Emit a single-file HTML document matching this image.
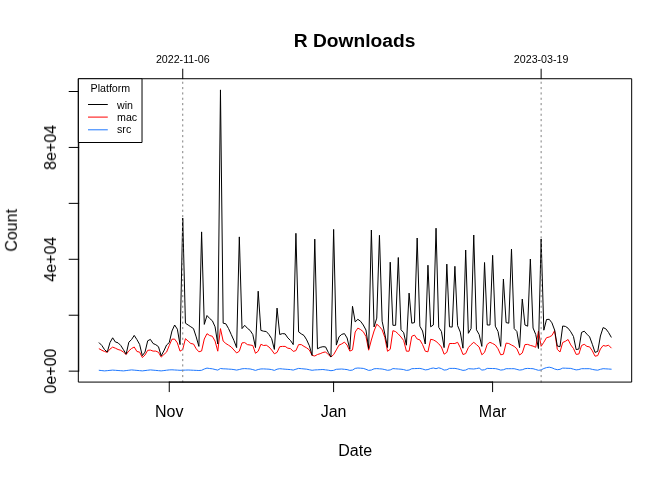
<!DOCTYPE html>
<html><head><meta charset="utf-8"><style>
html,body{margin:0;padding:0;background:#fff;}
body{width:672px;height:480px;overflow:hidden;font-family:"Liberation Sans",sans-serif;}
svg{display:block;} text{will-change:transform;}
</style></head><body>
<svg width="672" height="480" viewBox="0 0 672 480">
<rect width="672" height="480" fill="#fff"/>
<g stroke-linecap="round" stroke-linejoin="round">
<path d="M99.20,370.30 L101.89,370.60 L104.59,370.90 L107.28,370.63 L109.98,370.37 L112.67,370.10 L115.37,370.30 L118.06,370.50 L120.76,370.70 L123.45,370.90 L126.15,370.57 L128.84,370.23 L131.54,369.90 L134.23,370.15 L136.93,370.40 L139.62,370.65 L142.32,370.90 L145.01,370.57 L147.70,370.23 L150.40,369.90 L153.09,370.15 L155.79,370.40 L158.48,370.65 L161.18,370.90 L163.87,370.57 L166.57,370.23 L169.26,369.90 L171.96,369.80 L174.65,369.97 L177.35,370.13 L180.04,370.30 L182.74,370.20 L185.43,370.10 L188.13,370.00 L190.82,370.12 L193.51,370.25 L196.21,370.38 L198.90,370.50 L201.60,370.30 L204.29,369.00 L206.99,368.10 L209.68,368.50 L212.38,368.80 L215.07,369.50 L217.77,370.10 L220.46,368.50 L223.16,368.80 L225.85,368.90 L228.55,369.10 L231.24,369.25 L233.94,369.60 L236.63,370.10 L239.32,369.50 L242.02,368.80 L244.71,368.60 L247.41,368.77 L250.10,368.95 L252.80,369.60 L255.49,370.40 L258.19,369.50 L260.88,368.95 L263.58,368.90 L266.27,369.05 L268.97,369.20 L271.66,369.60 L274.36,370.40 L277.05,369.20 L279.74,368.70 L282.44,368.95 L285.13,369.20 L287.83,369.40 L290.52,369.60 L293.22,370.10 L295.91,369.20 L298.61,368.40 L301.30,368.67 L304.00,368.93 L306.69,369.20 L309.39,369.75 L312.08,370.30 L314.78,369.95 L317.47,369.80 L320.17,369.65 L322.86,369.50 L325.55,369.85 L328.25,370.20 L330.94,370.70 L333.64,370.35 L336.33,369.30 L339.03,369.15 L341.72,369.00 L344.42,369.30 L347.11,369.60 L349.81,370.40 L352.50,370.05 L355.20,368.40 L357.89,368.00 L360.59,368.20 L363.28,368.40 L365.98,369.30 L368.67,370.40 L371.36,370.05 L374.06,368.80 L376.75,368.60 L379.45,368.80 L382.14,369.00 L384.84,369.60 L387.53,370.30 L390.23,369.95 L392.92,368.60 L395.62,368.80 L398.31,369.00 L401.01,369.20 L403.70,369.60 L406.40,370.40 L409.09,370.05 L411.79,368.70 L414.48,368.60 L417.17,368.50 L419.87,368.40 L422.56,369.00 L425.26,369.90 L427.95,369.55 L430.65,368.50 L433.34,368.00 L436.04,368.70 L438.73,367.80 L441.43,368.60 L444.12,370.10 L446.82,369.75 L449.51,368.40 L452.21,368.40 L454.90,368.40 L457.60,368.90 L460.29,369.60 L462.98,370.40 L465.68,370.05 L468.37,368.70 L471.07,368.85 L473.76,369.00 L476.46,368.60 L479.15,368.00 L481.85,370.10 L484.54,369.75 L487.24,368.40 L489.93,368.47 L492.63,368.53 L495.32,368.60 L498.02,369.20 L500.71,370.10 L503.41,369.75 L506.10,368.70 L508.79,368.70 L511.49,368.70 L514.18,368.70 L516.88,369.40 L519.57,370.10 L522.27,369.75 L524.96,368.70 L527.66,368.40 L530.35,368.55 L533.05,368.70 L535.74,369.50 L538.44,370.30 L541.13,369.95 L543.83,368.50 L546.52,367.60 L549.21,367.20 L551.91,367.80 L554.60,369.00 L557.30,369.70 L559.99,369.35 L562.69,368.10 L565.38,368.20 L568.08,368.30 L570.77,368.40 L573.47,369.20 L576.16,369.90 L578.86,369.55 L581.55,368.70 L584.25,368.70 L586.94,368.70 L589.64,368.70 L592.33,369.40 L595.02,369.90 L597.72,370.20 L600.41,369.30 L603.11,368.70 L605.80,368.85 L608.50,369.00 L611.19,369.20" fill="none" stroke="#1E78FF" stroke-width="1" stroke-linejoin="round"/>
<path d="M99.20,348.80 L101.89,350.30 L104.59,351.50 L107.28,352.30 L109.98,349.10 L112.67,347.10 L115.37,348.20 L118.06,349.50 L120.76,350.30 L123.45,352.10 L126.15,354.50 L128.84,350.90 L131.54,348.50 L134.23,347.00 L136.93,351.50 L139.62,352.10 L142.32,357.50 L145.01,355.00 L147.70,350.30 L150.40,350.10 L153.09,351.10 L155.79,351.10 L158.48,352.30 L161.18,357.10 L163.87,354.50 L166.57,352.10 L169.26,345.50 L171.96,339.20 L174.65,339.10 L177.35,342.90 L180.04,351.20 L182.74,349.40 L185.43,338.70 L188.13,341.10 L190.82,343.50 L193.51,344.00 L196.21,348.80 L198.90,351.80 L201.60,351.00 L204.29,339.00 L206.99,333.70 L209.68,335.50 L212.38,336.30 L215.07,341.10 L217.77,351.20 L220.46,328.60 L223.16,341.10 L225.85,343.50 L228.55,345.20 L231.24,347.00 L233.94,350.00 L236.63,353.00 L239.32,351.20 L242.02,342.90 L244.71,342.60 L247.41,344.60 L250.10,345.00 L252.80,345.50 L255.49,353.30 L258.19,351.20 L260.88,344.30 L263.58,345.50 L266.27,345.20 L268.97,347.00 L271.66,350.00 L274.36,353.80 L277.05,352.40 L279.74,346.70 L282.44,346.40 L285.13,346.40 L287.83,348.20 L290.52,348.60 L293.22,351.40 L295.91,350.60 L298.61,344.60 L301.30,344.60 L304.00,346.40 L306.69,347.90 L309.39,350.00 L312.08,355.40 L314.78,356.00 L317.47,354.50 L320.17,353.70 L322.86,352.50 L325.55,351.90 L328.25,354.60 L330.94,357.00 L333.64,354.60 L336.33,349.90 L339.03,345.10 L341.72,343.90 L344.42,342.10 L347.11,345.10 L349.81,351.10 L352.50,349.90 L355.20,332.00 L357.89,328.10 L360.59,329.60 L363.28,331.70 L365.98,336.50 L368.67,350.20 L371.36,340.00 L374.06,331.00 L376.75,324.20 L379.45,326.50 L382.14,329.80 L384.84,337.40 L387.53,351.30 L390.23,349.30 L392.92,330.70 L395.62,331.60 L398.31,334.00 L401.01,337.00 L403.70,340.50 L406.40,351.20 L409.09,351.20 L411.79,336.30 L414.48,335.10 L417.17,339.00 L419.87,339.90 L422.56,344.60 L425.26,351.20 L427.95,351.80 L430.65,339.30 L433.34,339.90 L436.04,341.40 L438.73,343.80 L441.43,347.00 L444.12,354.20 L446.82,352.40 L449.51,343.50 L452.21,343.50 L454.90,343.50 L457.60,342.30 L460.29,347.60 L462.98,354.50 L465.68,353.60 L468.37,347.60 L471.07,344.60 L473.76,342.30 L476.46,344.60 L479.15,347.00 L481.85,354.80 L484.54,352.40 L487.24,344.30 L489.93,342.30 L492.63,343.50 L495.32,345.00 L498.02,348.80 L500.71,354.80 L503.41,354.20 L506.10,343.10 L508.79,343.50 L511.49,345.00 L514.18,346.40 L516.88,348.80 L519.57,355.00 L522.27,353.00 L524.96,344.60 L527.66,344.40 L530.35,345.40 L533.05,346.10 L535.74,347.30 L538.44,331.00 L541.13,346.30 L543.83,342.20 L546.52,337.70 L549.21,337.00 L551.91,335.50 L554.60,330.70 L557.30,349.40 L559.99,352.00 L562.69,342.50 L565.38,341.30 L568.08,339.50 L570.77,344.90 L573.47,348.50 L576.16,354.40 L578.86,354.00 L581.55,345.50 L584.25,344.30 L586.94,346.40 L589.64,346.90 L592.33,350.80 L595.02,356.20 L597.72,355.60 L600.41,349.00 L603.11,345.50 L605.80,346.10 L608.50,345.20 L611.19,347.90" fill="none" stroke="#FF0000" stroke-width="1" stroke-linejoin="round"/>
<path d="M99.20,342.80 L101.89,345.50 L104.59,349.70 L107.28,352.10 L109.98,342.60 L112.67,337.80 L115.37,342.00 L118.06,342.80 L120.76,345.50 L123.45,349.70 L126.15,354.20 L128.84,342.20 L131.54,339.60 L134.23,335.40 L136.93,339.60 L139.62,344.40 L142.32,355.70 L145.01,352.10 L147.70,340.80 L150.40,339.40 L153.09,343.50 L155.79,344.70 L158.48,346.70 L161.18,355.90 L163.87,350.90 L166.57,345.00 L169.26,342.60 L171.96,331.00 L174.65,325.00 L177.35,329.20 L180.04,344.60 L182.74,218.10 L185.43,323.20 L188.13,325.00 L190.82,326.80 L193.51,328.60 L196.21,336.90 L198.90,346.40 L201.60,231.90 L204.29,324.40 L206.99,315.50 L209.68,318.50 L212.38,320.80 L215.07,326.80 L217.77,344.00 L220.46,89.90 L223.16,323.20 L225.85,323.80 L228.55,328.60 L231.24,334.50 L233.94,340.50 L236.63,347.60 L239.32,236.90 L242.02,328.60 L244.71,325.30 L247.41,328.30 L250.10,330.40 L252.80,334.50 L255.49,347.60 L258.19,291.20 L260.88,330.40 L263.58,331.20 L266.27,331.50 L268.97,334.50 L271.66,338.70 L274.36,349.40 L277.05,308.10 L279.74,334.50 L282.44,333.60 L285.13,333.90 L287.83,337.90 L290.52,340.50 L293.22,344.60 L295.91,233.30 L298.61,331.90 L301.30,333.90 L304.00,335.50 L306.69,339.90 L309.39,345.80 L312.08,355.40 L314.78,239.10 L317.47,348.80 L320.17,347.40 L322.86,346.70 L325.55,346.90 L328.25,352.30 L330.94,357.00 L333.64,229.40 L336.33,345.10 L339.03,336.80 L341.72,334.40 L344.42,333.60 L347.11,338.00 L349.81,349.30 L352.50,306.30 L355.20,321.90 L357.89,319.30 L360.59,321.30 L363.28,325.00 L365.98,330.00 L368.67,348.50 L371.36,230.00 L374.06,326.90 L376.75,318.10 L379.45,235.30 L382.14,321.20 L384.84,334.00 L387.53,347.50 L390.23,262.20 L392.92,325.30 L395.62,325.30 L398.31,257.50 L401.01,329.80 L403.70,332.70 L406.40,345.20 L409.09,293.10 L411.79,323.20 L414.48,322.60 L417.17,238.00 L419.87,326.20 L422.56,331.00 L425.26,344.00 L427.95,265.20 L430.65,326.80 L433.34,325.00 L436.04,228.20 L438.73,327.40 L441.43,331.50 L444.12,347.60 L446.82,264.10 L449.51,326.80 L452.21,327.10 L454.90,266.30 L457.60,325.60 L460.29,332.10 L462.98,348.20 L465.68,250.00 L468.37,333.30 L471.07,328.60 L473.76,235.00 L476.46,329.80 L479.15,334.50 L481.85,346.40 L484.54,262.50 L487.24,325.00 L489.93,325.00 L492.63,255.30 L495.32,326.20 L498.02,331.50 L500.71,346.40 L503.41,279.00 L506.10,322.60 L508.79,323.20 L511.49,249.00 L514.18,328.60 L516.88,331.50 L519.57,347.60 L522.27,299.00 L524.96,325.00 L527.66,326.20 L530.35,259.00 L533.05,328.00 L535.74,334.50 L538.44,348.50 L541.13,239.00 L543.83,330.20 L546.52,319.50 L549.21,319.30 L551.91,322.80 L554.60,330.00 L557.30,346.00 L559.99,346.70 L562.69,326.00 L565.38,326.40 L568.08,328.20 L570.77,331.80 L573.47,336.50 L576.16,349.60 L578.86,349.00 L581.55,332.40 L584.25,331.20 L586.94,334.20 L589.64,336.90 L592.33,344.30 L595.02,352.40 L597.72,351.40 L600.41,336.00 L603.11,327.60 L605.80,328.80 L608.50,332.40 L611.19,337.10" fill="none" stroke="#000" stroke-width="1" stroke-linejoin="round"/>
<line x1="182.74" y1="382.08" x2="182.74" y2="78.72" stroke="#808080" stroke-width="1" stroke-dasharray="1.333 4"/>
<line x1="541.13" y1="382.08" x2="541.13" y2="78.72" stroke="#808080" stroke-width="1" stroke-dasharray="1.333 4"/>
<rect x="78.72" y="78.72" width="552.96" height="303.36" fill="none" stroke="#000" stroke-width="1"/>
<line x1="169.26" y1="382.08" x2="492.6" y2="382.08" stroke="#000" stroke-width="1"/>
<line x1="169.26" y1="382.08" x2="169.26" y2="391.68" stroke="#000" stroke-width="1"/>
<line x1="333.6" y1="382.08" x2="333.6" y2="391.68" stroke="#000" stroke-width="1"/>
<line x1="492.6" y1="382.08" x2="492.6" y2="391.68" stroke="#000" stroke-width="1"/>
<line x1="78.72" y1="371.15" x2="78.72" y2="91.50" stroke="#000" stroke-width="1"/>
<line x1="78.72" y1="371.15" x2="69.12" y2="371.15" stroke="#000" stroke-width="1"/>
<line x1="78.72" y1="315.22" x2="69.12" y2="315.22" stroke="#000" stroke-width="1"/>
<line x1="78.72" y1="259.29" x2="69.12" y2="259.29" stroke="#000" stroke-width="1"/>
<line x1="78.72" y1="203.36" x2="69.12" y2="203.36" stroke="#000" stroke-width="1"/>
<line x1="78.72" y1="147.43" x2="69.12" y2="147.43" stroke="#000" stroke-width="1"/>
<line x1="78.72" y1="91.50" x2="69.12" y2="91.50" stroke="#000" stroke-width="1"/>
<line x1="182.74" y1="78.72" x2="182.74" y2="69.12" stroke="#000" stroke-width="1"/>
<line x1="541.13" y1="78.72" x2="541.13" y2="69.12" stroke="#000" stroke-width="1"/>
<text x="354.6" y="46.7" font-family="Liberation Sans, sans-serif" font-size="19.2" font-weight="bold" text-anchor="middle">R Downloads</text>
<text x="355.2" y="455.6" font-family="Liberation Sans, sans-serif" font-size="16" text-anchor="middle">Date</text>
<text transform="translate(16.9,230.4) rotate(-90)" font-family="Liberation Sans, sans-serif" font-size="16" text-anchor="middle">Count</text>
<text x="169.26" y="417" font-family="Liberation Sans, sans-serif" font-size="16" text-anchor="middle">Nov</text>
<text x="333.6" y="417" font-family="Liberation Sans, sans-serif" font-size="16" text-anchor="middle">Jan</text>
<text x="492.6" y="417" font-family="Liberation Sans, sans-serif" font-size="16" text-anchor="middle">Mar</text>
<text transform="translate(56,371.15) rotate(-90)" font-family="Liberation Sans, sans-serif" font-size="16" text-anchor="middle">0e+00</text>
<text transform="translate(56,259.29) rotate(-90)" font-family="Liberation Sans, sans-serif" font-size="16" text-anchor="middle">4e+04</text>
<text transform="translate(56,147.43) rotate(-90)" font-family="Liberation Sans, sans-serif" font-size="16" text-anchor="middle">8e+04</text>
<text x="182.74" y="62.9" font-family="Liberation Sans, sans-serif" font-size="10.67" text-anchor="middle">2022-11-06</text>
<text x="541.13" y="62.9" font-family="Liberation Sans, sans-serif" font-size="10.67" text-anchor="middle">2023-03-19</text>
<rect x="78.72" y="78.72" width="63.3" height="63.78" fill="#fff" stroke="#000" stroke-width="1"/>
<text x="110.4" y="91.76" font-family="Liberation Sans, sans-serif" font-size="10.67" text-anchor="middle">Platform</text>
<line x1="88.4" y1="104.5" x2="107.4" y2="104.5" stroke="#000" stroke-width="1"/>
<text x="117" y="108.9" font-family="Liberation Sans, sans-serif" font-size="10.67">win</text>
<line x1="88.4" y1="117.1" x2="107.4" y2="117.1" stroke="#FF0000" stroke-width="1"/>
<text x="117" y="121.1" font-family="Liberation Sans, sans-serif" font-size="10.67">mac</text>
<line x1="88.4" y1="129.8" x2="107.4" y2="129.8" stroke="#1E78FF" stroke-width="1"/>
<text x="117" y="133.3" font-family="Liberation Sans, sans-serif" font-size="10.67">src</text>
</g></svg>
</body></html>
